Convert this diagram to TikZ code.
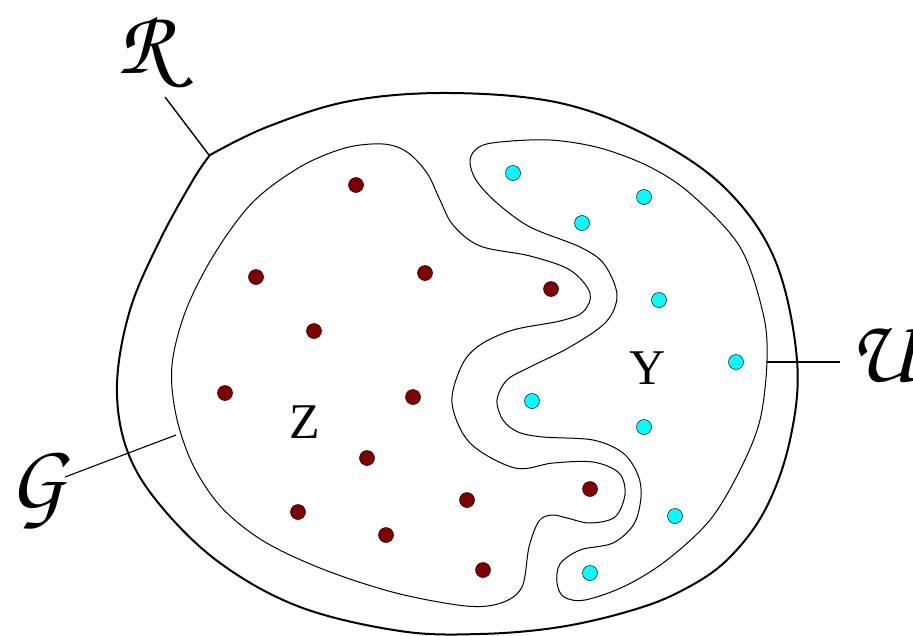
\documentclass[tikz,border=0pt]{standalone}
\usepackage{fontspec}
\newfontfamily\tnr{Liberation Serif}
\newcommand\chanc{\fontencoding{OT1}\fontfamily{pzc}\fontseries{mb}\fontshape{it}\selectfont}
\definecolor{dred}{HTML}{800000}
\definecolor{dcyan}{HTML}{00FFFF}
\tikzset{
  outerline/.style={line width=2pt, line join=round},
  innerline/.style={line width=1pt},
  leader/.style={line width=1.4pt},
  zdot/.style={circle, draw=black, line width=0.5pt, fill=dred, minimum size=15pt, inner sep=0pt},
  ydot/.style={circle, draw=black, line width=0.5pt, fill=dcyan, minimum size=15pt, inner sep=0pt},
  setlabel/.style={font=\tnr\fontsize{50}{50}\selectfont, inner sep=0pt},
  callabel/.style={font=\chanc\fontsize{92}{92}\selectfont, inner sep=0pt}
}
\begin{document}
\begin{tikzpicture}[x=1pt, y=-1pt]
\useasboundingbox (0,0) rectangle (913,635);
% outer region R
\draw[outerline] plot[smooth, tension=0.6] coordinates {
 (210,155) (267,127) (350,101) (450,93) (560,103) (650,137) (725,188) (775,260)
 (797,360) (790,440) (765,510) (727,560) (683,590) (633,610) (560,627) (480,634)
 (400,631) (300,607) (220,563) (160,505) (127,450) (117,385) (130,310) (160,240)
 (193,180) (210,155)};
% region Z
\draw[innerline] plot[smooth cycle, tension=0.55] coordinates {
 (383,144) (407,152) (427,173) (440,200) (453,225) (480,246) (530,256) (570,270)
 (590,293) (583,312) (560,321) (513,330) (480,345) (462,365) (452,403) (470,443)
 (515,468) (553,463) (593,462) (619,473) (625,494) (615,517) (590,523) (567,518)
 (552,515) (539,521) (529,547) (522,587) (501,603) (466,606) (396,593) (325,570)
 (265,542) (222,508) (193,465) (176,415) (172,365) (186,310) (215,253) (253,202)
 (300,167) (345,148)};
% region Y
\draw[innerline] plot[smooth cycle, tension=0.55] coordinates {
 (470,160) (479,147) (500,142) (550,140) (600,148) (650,167) (692,195) (740,247)
 (763,313) (767,360) (760,420) (740,470) (710,520) (667,560) (625,586) (585,600)
 (564,597) (557,583) (560,564) (580,550) (613,543) (634,524) (641,497) (638,475)
 (623,453) (593,440) (543,437) (518,432) (503,420) (497,400) (507,380) (530,367)
 (570,347) (606,322) (617,295) (604,264) (580,247) (530,227) (497,203) (476,180)};
% labels
\node[callabel] (R) at (145,52) {R};
\node[callabel] (G) at (37,490) {G};
\node[callabel] (U) at (883,354) {U};
\node[setlabel] (Z) at (305,422) {Z};
\node[setlabel] (Y) at (648,368) {Y};
% leaders
\coordinate (Rs) at (165,97);
\coordinate (Re) at (209,155);
\coordinate (Gs) at (65,477);
\coordinate (Ge) at (176,435);
\coordinate (Us) at (840,362);
\coordinate (Ue) at (767,362);
\draw[leader] (Rs) -- (Re);
\draw[line width=1.1pt] (Gs) -- (Ge);
\draw[line width=1.1pt] (Us) -- (Ue);
% Z dots
\foreach \n/\p in {z1/{(356,185)}, z2/{(256,277)}, z3/{(425,273)}, z4/{(551,289)},
  z5/{(314,331)}, z6/{(225,393)}, z7/{(413,397)}, z8/{(367,458)}, z9/{(590,489)},
  z10/{(467,500)}, z11/{(298,512)}, z12/{(386,535)}, z13/{(483,570)}}
  \node[zdot] (\n) at \p {};
% Y dots
\foreach \n/\p in {y1/{(513,173)}, y2/{(644,197)}, y3/{(582,223)}, y4/{(659,300)},
  y5/{(736,362)}, y6/{(532,401)}, y7/{(644,427)}, y8/{(675,516)}, y9/{(590,573)}}
  \node[ydot] (\n) at \p {};
\end{tikzpicture}
\end{document}
